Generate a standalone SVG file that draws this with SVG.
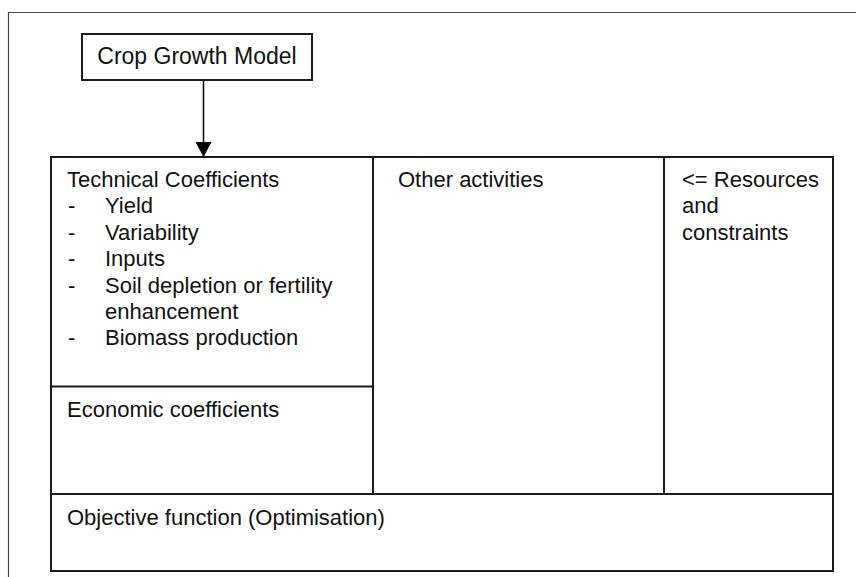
<svg xmlns="http://www.w3.org/2000/svg" width="856" height="577" viewBox="0 0 856 577">
<style>
  .t { font-family: "Liberation Sans", Arial, sans-serif; font-size: 22px; fill: #111; }
  .box { fill: none; stroke: #1a1a1a; stroke-width: 2; }
  .ln { stroke: #1a1a1a; stroke-width: 2; fill: none; }
  .frame { stroke: #444; stroke-width: 1.2; fill: none; }
</style>
<defs>
  <marker id="arr" markerWidth="15" markerHeight="16" refX="15" refY="8" orient="auto" markerUnits="userSpaceOnUse">
    <path d="M0,0 L15,8 L0,16 Z" fill="#000"/>
  </marker>
</defs>
<rect width="856" height="577" fill="#fff"/>
<g id="frame">
  <path class="frame" d="M856,12.5 H8.5 V577"/>
</g>
<g id="crop-growth-model">
  <rect class="box" x="82" y="34" width="230" height="46" stroke-width="1.5"/>
  <text class="t" x="197" y="64" text-anchor="middle" style="font-size:23px">Crop Growth Model</text>
</g>
<g id="connectors">
  <line x1="203.5" y1="80" x2="203.5" y2="157" stroke="#000" stroke-width="1.5" marker-end="url(#arr)"/>
</g>
<g id="table">
  <rect class="box" x="51" y="157" width="782" height="414"/>
  <line class="ln" x1="51" y1="494" x2="833" y2="494"/>
  <line class="ln" x1="373" y1="157" x2="373" y2="494"/>
  <line class="ln" x1="664" y1="157" x2="664" y2="494"/>
  <line class="ln" x1="51" y1="386.5" x2="373" y2="386.5"/>
</g>
<g id="technical-coefficients">
  <text class="t" x="67" y="187">Technical Coefficients</text>
  <text class="t" x="68" y="213">-</text><text class="t" x="105" y="213">Yield</text>
  <text class="t" x="68" y="240">-</text><text class="t" x="105" y="240">Variability</text>
  <text class="t" x="68" y="266">-</text><text class="t" x="105" y="266">Inputs</text>
  <text class="t" x="68" y="293">-</text><text class="t" x="105" y="293">Soil depletion or fertility</text>
  <text class="t" x="105" y="319">enhancement</text>
  <text class="t" x="68" y="345">-</text><text class="t" x="105" y="345">Biomass production</text>
</g>
<g id="economic-coefficients">
  <text class="t" x="67" y="417">Economic coefficients</text>
</g>
<g id="other-activities">
  <text class="t" x="398" y="187">Other activities</text>
</g>
<g id="resources">
  <text class="t" x="682" y="187">&lt;= Resources</text>
  <text class="t" x="682" y="213">and</text>
  <text class="t" x="682" y="240">constraints</text>
</g>
<g id="objective-function">
  <text class="t" x="67" y="525">Objective function (Optimisation)</text>
</g>
</svg>
